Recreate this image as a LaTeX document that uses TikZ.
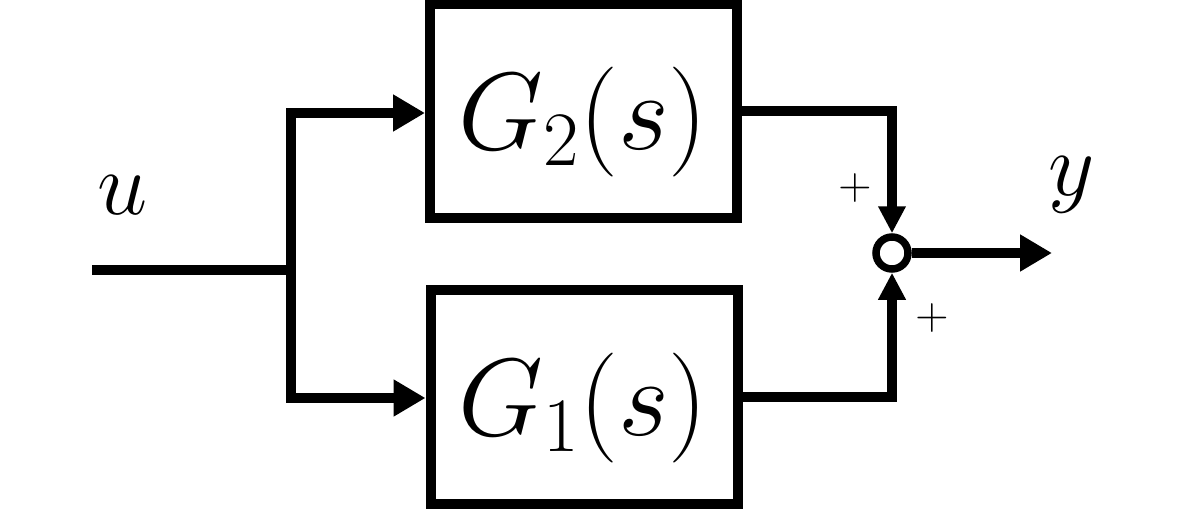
\documentclass[tikz,border=0pt]{standalone}
\usepackage{fix-cm}
\usetikzlibrary{arrows.meta}
\begin{document}
\begin{tikzpicture}[x=1pt,y=-1pt,
  conn/.style={line width=10pt,line join=miter},
  blk/.style={draw,line width=10pt,minimum width=307pt,minimum height=214pt,inner sep=0pt},
  bigtext/.style={inner sep=0pt,font=\fontsize{110}{110}\selectfont},
  sigtext/.style={inner sep=0pt,font=\fontsize{90}{90}\selectfont},
  signtext/.style={inner sep=0pt,font=\fontsize{46}{46}\selectfont},
  bigarrow/.style={-{Triangle[length=32pt,width=35pt]}},
  smallarrow/.style={-{Triangle[length=27pt,width=26pt]}},
  sumjunc/.style={circle,draw,line width=7.5pt,minimum size=32pt,inner sep=0pt}
]
\useasboundingbox (0,0) rectangle (1200,511);
% blocks
\node[blk] (g2) at (583.5,111) {};
\node[blk] (g1) at (584,397) {};
\node[bigtext] (t2) at (583,122) {$G_{2}(s)$};
\node[bigtext] (t1) at (583,408) {$G_{1}(s)$};
% summing junction
\node[sumjunc] (sum) at (892,253) {};
% signal labels
\node[sigtext] (lu) at (123,195) {$u$};
\node[sigtext] (ly) at (1072,185) {$y$};
\node[signtext] (p1) at (855,188) {$+$};
\node[signtext] (p2) at (932,318) {$+$};
% coordinates
\coordinate (in) at (92,270);
\coordinate (br) at (291,270);
\coordinate (bt) at (291,113);
\coordinate (bb) at (291,398);
\coordinate (out) at (1052,253);
% connectors
\draw[conn] (in) -- (br);
\draw[conn,{Triangle[length=32pt,width=35pt]}-{Triangle[length=32pt,width=35pt]}]
  (bt -| g2.west) -- (bt) -- (bb) -- (bb -| g1.west);
\draw[conn,smallarrow] (g2.east) -| (sum.north);
\draw[conn,smallarrow] (g1.east) -| (sum.south);
\draw[conn,bigarrow] (sum.east) -- (out);
\end{tikzpicture}
\end{document}
